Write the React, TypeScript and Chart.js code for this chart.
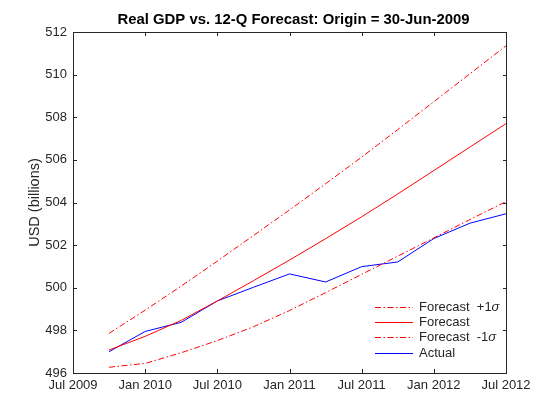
import { useEffect, useRef } from "react";
import { Chart, registerables } from "chart.js";

Chart.register(...registerables);

// Months since Jul 2009 (quarter ends)
const quarterMonths = [3, 6, 9, 12, 15, 18, 21, 24, 27, 30, 33, 36];
const actualValues = [497.0, 497.95, 498.38, 499.38, 500.02, 500.65, 500.27, 500.99, 501.21, 502.31, 503.03, 503.47];
const forecastValues = [497.08, 497.72, 498.47, 499.38, 500.33, 501.3, 502.3, 503.33, 504.4, 505.5, 506.6, 507.7];
const upperValues = [497.86, 498.95, 500.08, 501.25, 502.45, 503.65, 504.88, 506.13, 507.42, 508.73, 510.04, 511.35];
const lowerValues = [496.27, 496.45, 496.95, 497.52, 498.17, 498.93, 499.77, 500.63, 501.48, 502.34, 503.2, 504.04];
const xTickLabels = ["Jul 2009", "Jan 2010", "Jul 2010", "Jan 2011", "Jul 2011", "Jan 2012", "Jul 2012"];
const seriesLabels = ["Forecast  +1", "Forecast", "Forecast  -1", "Actual"];
const sigmaFlags = [true, false, true, false];

const TITLE = "Real GDP vs. 12-Q Forecast: Origin = 30-Jun-2009";
const Y_LABEL = "USD (billions)";
const FONT = "'Liberation Sans', Arial, Helvetica, sans-serif";
const AXIS_COLOR = "#262626";
const DASH_DOT = [6, 2.5, 1.5, 2.5];

const toPoints = (vals: number[]) => vals.map((v, i) => ({ x: quarterMonths[i], y: v }));

const decorPlugin = {
  id: "decor",
  afterDraw(chart: any) {
    const { ctx, chartArea, scales } = chart;
    const { left, right, top, bottom } = chartArea;
    ctx.save();
    // box
    ctx.strokeStyle = AXIS_COLOR;
    ctx.lineWidth = 1;
    ctx.setLineDash([]);
    ctx.strokeRect(left + 0.5, top + 0.5, right - left, bottom - top);
    // inward ticks
    const tl = 4;
    ctx.beginPath();
    scales.x.ticks.forEach((t: any) => {
      const px = Math.round(scales.x.getPixelForValue(t.value)) + 0.5;
      ctx.moveTo(px, bottom);
      ctx.lineTo(px, bottom - tl);
      ctx.moveTo(px, top);
      ctx.lineTo(px, top + tl);
    });
    scales.y.ticks.forEach((t: any) => {
      const py = Math.round(scales.y.getPixelForValue(t.value)) + 0.5;
      ctx.moveTo(left, py);
      ctx.lineTo(left + tl, py);
      ctx.moveTo(right + 1, py);
      ctx.lineTo(right + 1 - tl, py);
    });
    ctx.stroke();
    // title
    ctx.fillStyle = "#000000";
    ctx.font = `bold 14.9px ${FONT}`;
    ctx.textAlign = "center";
    ctx.textBaseline = "middle";
    ctx.fillText(TITLE, (left + right) / 2 + 4, 20);
    // y label
    ctx.save();
    ctx.translate(35, (top + bottom) / 2);
    ctx.rotate(-Math.PI / 2);
    ctx.fillStyle = AXIS_COLOR;
    ctx.font = `14.5px ${FONT}`;
    ctx.fillText(Y_LABEL, 0, 0);
    ctx.restore();
    // legend
    const x0 = right - 131;
    const x1 = right - 93;
    const tx = right - 87;
    chart.data.datasets.forEach((ds: any, i: number) => {
      const y = Math.round(bottom - 66 + i * 15.2) + 0.5;
      ctx.strokeStyle = ds.borderColor;
      ctx.lineWidth = 1;
      ctx.setLineDash(ds.borderDash || []);
      ctx.beginPath();
      ctx.moveTo(x0, y);
      ctx.lineTo(x1, y);
      ctx.stroke();
      ctx.setLineDash([]);
      ctx.fillStyle = AXIS_COLOR;
      ctx.font = `13px ${FONT}`;
      ctx.textAlign = "left";
      ctx.textBaseline = "middle";
      ctx.fillText(seriesLabels[i], tx, y);
      if (sigmaFlags[i]) {
        const w = ctx.measureText(seriesLabels[i]).width;
        ctx.font = `italic 13px ${FONT}`;
        ctx.fillText("σ", tx + w, y);
      }
    });
    ctx.restore();
  },
};

export default function App() {
  const canvasRef = useRef<HTMLCanvasElement | null>(null);

  useEffect(() => {
    document.body.style.margin = "0";
    const canvas = canvasRef.current;
    if (!canvas) return;
    const chart = new Chart(canvas, {
      type: "line",
      data: {
        datasets: [
          {
            label: seriesLabels[0],
            data: toPoints(upperValues),
            borderColor: "#ff0000",
            borderWidth: 1,
            borderDash: DASH_DOT,
            pointRadius: 0,
            fill: false,
            tension: 0,
          },
          {
            label: seriesLabels[1],
            data: toPoints(forecastValues),
            borderColor: "#ff0000",
            borderWidth: 1,
            pointRadius: 0,
            fill: false,
            tension: 0,
          },
          {
            label: seriesLabels[2],
            data: toPoints(lowerValues),
            borderColor: "#ff0000",
            borderWidth: 1,
            borderDash: DASH_DOT,
            pointRadius: 0,
            fill: false,
            tension: 0,
          },
          {
            label: seriesLabels[3],
            data: toPoints(actualValues),
            borderColor: "#0000ff",
            borderWidth: 1,
            pointRadius: 0,
            fill: false,
            tension: 0,
          },
        ],
      },
      options: {
        animation: false,
        responsive: false,
        maintainAspectRatio: false,
        devicePixelRatio: 1,
        layout: { padding: { top: 32, right: 54, left: 0, bottom: 0 } },
        plugins: {
          legend: { display: false },
          tooltip: { enabled: false },
          title: { display: false },
        },
        scales: {
          x: {
            type: "linear",
            min: 0,
            max: 36,
            afterFit: (s: any) => {
              s.height = 47;
            },
            afterBuildTicks: (s: any) => {
              s.ticks = xTickLabels.map((_, i) => ({ value: i * 6 }));
            },
            ticks: {
              stepSize: 6,
              padding: 5,
              color: AXIS_COLOR,
              font: { family: FONT, size: 13 },
              maxRotation: 0,
              autoSkip: false,
              callback: (v: any) => xTickLabels[Math.round(Number(v) / 6)] ?? "",
            },
            grid: { display: false, drawTicks: false },
            border: { display: false },
          },
          y: {
            type: "linear",
            min: 496,
            max: 512,
            afterFit: (s: any) => {
              s.width = 73;
            },
            ticks: {
              stepSize: 2,
              padding: 6,
              color: AXIS_COLOR,
              font: { family: FONT, size: 13 },
              callback: (v: any) => String(v),
            },
            grid: { display: false, drawTicks: false },
            border: { display: false },
          },
        },
      },
      plugins: [decorPlugin],
    } as any);
    return () => chart.destroy();
  }, []);

  return (
    <div style={{ width: 560, height: 420, background: "#ffffff" }}>
      <canvas ref={canvasRef} width={560} height={420} style={{ display: "block" }} />
    </div>
  );
}
